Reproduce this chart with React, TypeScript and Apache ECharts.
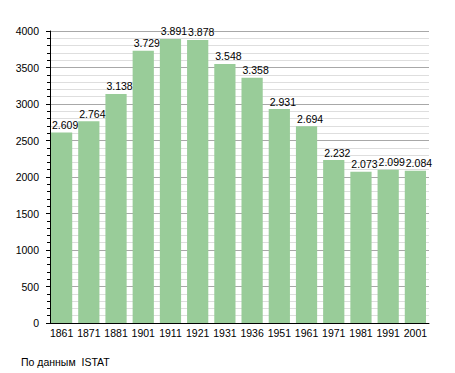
import React, { useEffect, useRef } from "react";
import * as echarts from "echarts";

const years = ["1861", "1871", "1881", "1901", "1911", "1921", "1931", "1936", "1951", "1961", "1971", "1981", "1991", "2001"];
const population = [2609, 2764, 3138, 3729, 3891, 3878, 3548, 3358, 2931, 2694, 2232, 2073, 2099, 2084];
const yTicks = { min: 0, max: 4000, interval: 500 };
const sourceNote = "По данным  ISTAT";

const FONT = "'Liberation Sans', Arial, sans-serif";

function fmt(v: number): string {
  const th = Math.floor(v / 1000);
  const rest = String(v % 1000).padStart(3, "0");
  return th > 0 ? `${th}.${rest}` : String(v);
}

export default function App() {
  const ref = useRef<HTMLDivElement>(null);
  useEffect(() => {
    if (!ref.current) return;
    const chart = echarts.init(ref.current, undefined, { renderer: "svg" });
    chart.setOption({
      animation: false,
      backgroundColor: "#ffffff",
      textStyle: { fontFamily: FONT },
      grid: { left: 48, right: 26, top: 31, bottom: 50, containLabel: false },
      xAxis: {
        type: "category",
        data: years,
        axisLine: { show: true, lineStyle: { color: "#000", width: 1 } },
        axisTick: { show: false },
        axisLabel: { color: "#000", fontSize: 10.5, fontFamily: FONT, margin: 4, interval: 0 },
        splitLine: { show: false },
      },
      yAxis: {
        type: "value",
        min: yTicks.min,
        max: yTicks.max,
        interval: yTicks.interval,
        offset: -2,
        axisLine: { show: true, lineStyle: { color: "#000", width: 1 } },
        axisTick: { show: true, length: 4, lineStyle: { color: "#000" } },
        minorTick: { show: true, splitNumber: 5, length: 3, lineStyle: { color: "#000" } },
        axisLabel: {
          color: "#000",
          fontSize: 10.5,
          fontFamily: FONT,
          margin: 11,
          formatter: (v: number) => String(v),
        },
        splitLine: { show: true, lineStyle: { color: "#a8a8a8", width: 1 } },
        minorSplitLine: { show: true, lineStyle: { color: "#dedede", width: 1 } },
      },
      series: [
        {
          type: "bar",
          data: population,
          barCategoryGap: "22%",
          itemStyle: { color: "#99cc99" },
          label: {
            show: true,
            position: [1, -13],
            color: "#000",
            fontSize: 10.5,
            fontFamily: FONT,
            formatter: (p: any) => fmt(p.value),
          },
        },
      ],
      graphic: [
        {
          type: "text",
          left: 21,
          top: 356,
          style: { text: sourceNote, fill: "#000", fontSize: 10.5, fontFamily: FONT },
        },
      ],
    });
    return () => chart.dispose();
  }, []);
  return <div ref={ref} style={{ width: 455, height: 373, position: "absolute", left: 0, top: 0 }} />;
}
